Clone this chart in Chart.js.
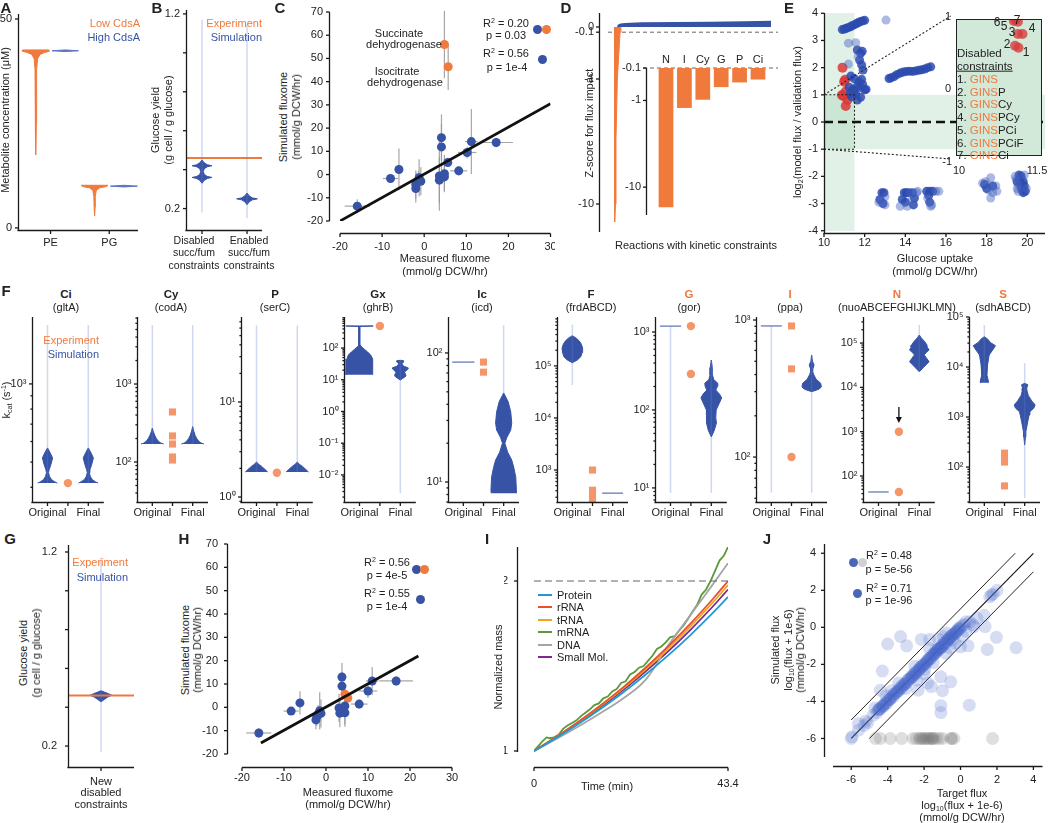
<!DOCTYPE html>
<html>
<head>
<meta charset="utf-8">
<title>Kinetic constraints figure</title>
<script src="https://cdn.jsdelivr.net/npm/chart.js@4.4.1/dist/chart.umd.min.js"></script>
<style>
  body { margin: 0; background: #fff; }
  #fig { position: relative; width: 1050px; height: 823px; overflow: hidden; background: #fff;
         font-family: "Liberation Sans", Arial, Helvetica, sans-serif; font-size: 11px; color: #222; }
  #fig canvas { position: absolute; }
  .t { position: absolute; white-space: nowrap; line-height: 1.1; }
  .t sup { font-size: 7px; vertical-align: 4px; line-height: 0; }
  .t sub { font-size: 7px; vertical-align: -2px; line-height: 0; }
  .dot { position: absolute; border-radius: 50%; }
  .key { position: absolute; height: 2px; width: 14px; }
</style>
</head>
<body>
<div id="fig"></div>
<script>
// ---------------- data ----------------
// A: metabolite concentration violins (value, half width)
const aCats = ['PE', 'PG'];
const aPeLowY = [17.5, 25, 33, 38, 40.5, 41.5, 42.0, 42.3, 42.6];
const aPeLowW = [0, 0.015, 0.02, 0.03, 0.06, 0.14, 0.3, 0.46, 0.44];
const aPeHighY = [42.2, 42.4, 42.6];
const aPeHighW = [0, 0.45, 0];
const aPgLowY = [2.9, 5, 7.5, 9.0, 9.6, 9.9, 10.2];
const aPgLowW = [0, 0.015, 0.025, 0.06, 0.18, 0.4, 0.46];
const aPgHighY = [9.8, 10.0, 10.2];
const aPgHighW = [0, 0.46, 0];

// B: glucose yield
const bCats = [['Disabled', 'succ/fum', 'constraints'], ['Enabled', 'succ/fum', 'constraints']];
const bExp = 0.46;
const bDisY = [0.33, 0.345, 0.355, 0.36, 0.365, 0.375, 0.39, 0.405, 0.415, 0.42, 0.425, 0.435, 0.45];
const bDisW = [0, 0.05, 0.12, 0.22, 0.12, 0.05, 0.03, 0.05, 0.12, 0.22, 0.12, 0.05, 0];
const bDisRange = [0.18, 1.17];
const bEnY = [0.22, 0.235, 0.245, 0.25, 0.255, 0.265, 0.28];
const bEnW = [0, 0.05, 0.12, 0.23, 0.12, 0.05, 0];
const bEnRange = [0.15, 1.15];

// C: measured vs simulated fluxome
const cX = [-15.9, -8.0, -6.0, -2.0, -2.0, -1.75, -1.2, -0.8, -1.35, 3.6, 3.6, 4.1, 4.1, 4.8, 4.8, 5.6, 8.2, 10.2, 11.2, 17.1];
const cY = [-13.6, -1.7, 2.2, -6.0, -4.3, -3.2, -1.4, -2.9, -2.4, -0.6, -2.4, 15.9, 11.9, 0.4, -1.0, 5.2, 1.6, 9.5, 14.2, 13.8];
const cXe = [3, 1.8, 1, 0.5, 0.5, 0.5, 0.5, 0.5, 0.5, 0.8, 0.8, 1.0, 1.0, 1.0, 1.0, 0.8, 2.0, 2.2, 1.5, 4.0];
const cYe = [3, 1.0, 9, 6, 6, 4, 8, 6, 4, 15, 10, 10, 10, 8, 6, 2, 2, 2.5, 14, 2];
const cOX = [4.8, 5.7];
const cOY = [56.0, 46.4];
const cOXe = [1.0, 0.8];
const cOYe = [14.5, 10];
const cFitX = [-20, 30];
const cFitY = [-20, 30.5];

// D: z-score of flux impact (sorted reactions, rank in %)
const dNegRank = [3.8, 3.9, 4.4, 4.7, 5.5, 7.1, 7.6];
const dNegZ = [0, -13.9, -10, -3, -1, -0.1, 0];
const dPosRank = [5.3, 5.6, 6.2, 7.5, 10, 20, 40, 60, 80, 95.9];
const dPosZ = [-0.1, -0.03, 0.03, 0.05, 0.06, 0.07, 0.075, 0.08, 0.09, 0.1];
const dTicks = [0, -0.1, -1, -10];
const dCats = ['N', 'I', 'Cy', 'G', 'P', 'Ci'];
const dInsetZ = [-17, -1.22, -0.98, -0.63, -0.50, -0.42];

// E: model / validation flux vs glucose uptake
const eGoodUptake = [10, 11.5];
const eGoodRatio = [-1, 1];
const eDarkX = [10.9, 11.0, 11.1, 11.2, 11.3, 11.4, 11.5, 11.6, 11.7, 11.8, 11.9, 12.0,
  11.64, 11.8, 11.88, 11.75, 11.85, 11.92, 11.32, 11.48, 11.72, 11.85, 11.24, 11.43, 11.64, 11.8, 12.0, 12.07, 11.56, 11.36, 11.8, 11.64, 11.48, 11.9, 11.3,
  13.2, 13.3, 13.45, 13.6, 13.75, 13.9, 14.05, 14.2, 14.35, 14.5, 14.65, 14.8, 14.95, 15.1, 15.25,
  12.75, 12.85, 12.95, 12.9, 13.85, 13.95, 14.05, 14.15, 14.35, 14.0, 14.4, 14.45, 15.05, 15.2, 15.35, 15.2, 15.15,
  17.9, 18.0, 18.3, 19.5, 19.6, 19.65, 19.7, 19.75, 19.8, 19.85, 19.7, 19.6, 19.9, 19.8, 19.75];
const eDarkY = [3.4, 3.42, 3.45, 3.48, 3.5, 3.55, 3.58, 3.62, 3.66, 3.7, 3.72, 3.74,
  2.65, 2.53, 2.6, 2.28, 2.1, 1.91, 1.69, 1.6, 1.48, 1.57, 1.28, 1.2, 1.33, 1.28, 1.18, 1.2, 1.03, 0.93, 0.91, 0.81, 1.13, 1.38, 1.05,
  1.6, 1.63, 1.67, 1.75, 1.8, 1.84, 1.86, 1.87, 1.86, 1.88, 1.9, 1.92, 1.95, 2.0, 2.03,
  -2.85, -2.6, -2.6, -3.0, -2.85, -2.6, -2.6, -2.6, -2.6, -2.95, -3.05, -2.8, -2.55, -2.55, -2.55, -2.95, -2.7,
  -2.3, -2.45, -2.35, -2.2, -2.1, -2.25, -2.4, -2.5, -2.2, -2.35, -2.0, -1.95, -2.55, -2.6, -2.3];
const eLightX = [13.05, 11.2, 11.56, 11.2, 11.68, 12.8, 13.0, 12.7, 13.0, 13.75, 14.25, 14.55, 14.6, 14.3, 14.1, 15.5, 15.65, 15.1, 15.3, 15.25,
  17.8, 17.95, 18.1, 18.2, 18.3, 18.45, 18.5, 18.2, 19.4, 19.45, 19.55, 19.55, 19.95, 19.5, 19.85];
const eLightY = [3.75, 2.9, 2.92, 2.13, 2.4, -2.9, -2.75, -2.95, -3.05, -3.1, -2.6, -2.6, -2.55, -2.9, -3.1, -2.55, -2.55, -2.8, -3.05, -3.1,
  -2.25, -2.2, -2.5, -2.05, -2.6, -2.35, -2.55, -2.8, -2.0, -2.1, -2.3, -2.55, -2.45, -2.45, -1.95];
const eRedX = [10.91, 10.99, 11.04, 10.88, 11.07, 11.15, 11.07, 10.95];
const eRedY = [2.0, 1.48, 1.55, 0.99, 1.12, 0.81, 0.59, 0.96];
const eInX = [11.01, 11.04, 11.08, 11.08, 11.16, 11.03, 11.09];
const eInY = [0.97, 0.99, 0.96, 0.78, 0.78, 0.61, 0.58];
const eConstraints = ['GINS', 'GINSP', 'GINSCy', 'GINSPCy', 'GINSPCi', 'GINSPCiF', 'GINSCi'];

// F: kcat violins per reaction (value, half width), whiskers, experimental values
const fTitle = ['Ci', 'Cy', 'P', 'Gx', 'Ic', 'F', 'G', 'I', 'N', 'S'];
const fGene = ['gltA', 'codA', 'serC', 'ghrB', 'icd', 'frdABCD', 'gor', 'ppa', 'nuoABCEFGHIJKLMN', 'sdhABCD'];
const fDisabled = [0, 0, 0, 0, 0, 0, 1, 1, 1, 1];
const fYRange = [[351, 1810], [30.7, 7230], [0.886, 78.5], [0.0014, 951], [7.0, 190],
  [243, 8.7e5], [6.6, 1557], [47, 1052], [25.9, 3.87e5], [20, 1e5]];
const fOrig = [
  [[415, 420, 428, 440, 455, 467, 490, 519, 545, 567], [0.48, 0.35, 0.2, 0.1, 0.05, 0.08, 0.17, 0.25, 0.12, 0]],
  [[170, 175, 185, 200, 220, 245, 273], [0.56, 0.42, 0.3, 0.2, 0.12, 0.05, 0]],
  [[1.83, 1.95, 2.1, 2.2, 2.33], [0.55, 0.42, 0.25, 0.12, 0]],
  [[14.4, 20, 30, 45, 60, 75, 90, 110, 124, 300, 480, 495], [0.65, 0.66, 0.66, 0.62, 0.55, 0.4, 0.25, 0.1, 0.04, 0.025, 0.025, 0.67]],
  [[85], [0.55]],
  [[1.15e5, 1.3e5, 1.5e5, 1.8e5, 2.2e5, 2.6e5, 3.0e5, 3.4e5, 3.8e5], [0, 0.25, 0.42, 0.48, 0.51, 0.45, 0.35, 0.2, 0]],
  [[1190], [0.52]],
  [[905], [0.52]],
  [[43.6], [0.5]],
  [[4850, 5200, 6900, 1.1e4, 1.74e4, 2.3e4, 2.67e4, 3.1e4, 3.6e4, 4.04e4], [0.19, 0.2, 0.13, 0.16, 0.24, 0.45, 0.55, 0.3, 0.17, 0]]
];
const fFinal = [
  [[415, 420, 428, 440, 455, 467, 490, 519, 545, 567], [0.48, 0.35, 0.2, 0.1, 0.05, 0.08, 0.17, 0.25, 0.12, 0]],
  [[170, 175, 185, 200, 220, 250, 285], [0.56, 0.42, 0.3, 0.2, 0.12, 0.05, 0]],
  [[1.83, 1.95, 2.1, 2.2, 2.33], [0.55, 0.42, 0.25, 0.12, 0]],
  [[9.8, 11, 13.1, 15.5, 17.5, 20, 23.4, 27, 32, 36, 40, 41], [0, 0.12, 0.28, 0.25, 0.2, 0.32, 0.4, 0.15, 0.08, 0.16, 0.16, 0]],
  [[8.2, 8.7, 10.9, 13, 14.8, 17, 20, 22, 25.3, 28.7, 35, 42, 49], [0.62, 0.63, 0.6, 0.5, 0.4, 0.2, 0.06, 0.15, 0.35, 0.4, 0.35, 0.22, 0]],
  [[360], [0.52]],
  [[45, 55, 68, 80, 100, 120, 143, 160, 180, 200, 220, 245, 280, 350, 437], [0, 0.15, 0.25, 0.22, 0.24, 0.38, 0.51, 0.4, 0.22, 0.3, 0.32, 0.12, 0.06, 0.05, 0]],
  [[300, 312, 324, 345, 370, 400, 420, 440, 470, 500, 556], [0, 0.35, 0.48, 0.45, 0.22, 0.1, 0.05, 0.06, 0.12, 0.04, 0]],
  [[2.25e4, 2.8e4, 3.8e4, 4.6e4, 5.4e4, 6.2e4, 6.95e4, 8e4, 9e4, 1.1e5, 1.3e5, 1.52e5], [0, 0.2, 0.48, 0.35, 0.24, 0.35, 0.48, 0.4, 0.38, 0.25, 0.1, 0]],
  [[275, 400, 510, 800, 1100, 1280, 1500, 1740, 2100, 2700, 3300, 3800, 4400, 4720], [0, 0.04, 0.06, 0.15, 0.22, 0.26, 0.45, 0.52, 0.35, 0.18, 0.12, 0.1, 0.16, 0]]
];
const fOrigRange = [[415, 1686], [170, 5700], [1.83, 64], null, null, [4.3e4, 6.2e5], [8.6, 1190], [55, 905], null, [4850, 6.9e4]];
const fFinalRange = [[415, 1686], [170, 5700], [1.83, 64], [0.0027, 40], [49, 164], null, [8.6, 437], [55, 556], [2.25e4, 2.55e5], [24, 1.2e4]];
const fExp = [[415], [438, 216, 170, 116, 106], [1.8], [495], [85, 71], [1000, 410, 360, 280], [1190, 290], [905, 440, 100], [1000, 43.6], [190, 145, 126, 42]];
const fExpShape = ['circle', 'rect', 'circle', 'circle', 'rect', 'rect', 'circle', ['rect', 'rect', 'circle'], 'circle', 'rect'];
const fArrowN = [3600, 1560];

// G: glucose yield with new disabled constraints
const gCats = [['New', 'disabled', 'constraints']];
const gExp = 0.46;
const gY = [0.428, 0.44, 0.452, 0.462, 0.47, 0.478, 0.485];
const gW = [0, 0.1, 0.2, 0.33, 0.22, 0.1, 0];
const gRange = [0.17, 1.17];

// H: measured vs simulated fluxome after fitting
const hX = [-16, -8.3, -6.2, -2.4, -2.2, -1.9, -1.5, -1.2, 3.1, 3.3, 3.8, 3.8, 4.5, 4.5, 7.9, 10.0, 11.0, 16.7];
const hY = [-11.0, -1.6, 1.9, -5.4, -4.0, -3.0, -1.5, -2.6, -0.3, -2.5, 13.0, 9.1, 0.6, -2.3, 1.4, 7.0, 11.3, 11.3];
const hXe = [3, 1.8, 1, 0.5, 0.5, 0.5, 0.5, 0.5, 0.8, 0.8, 1.0, 1.0, 1.0, 1.0, 2.0, 2.2, 1.5, 4.0];
const hYe = [2, 1.0, 5, 4, 4, 4, 8, 6, 6, 6, 6, 6, 8, 6, 2, 3, 6, 2];
const hOX = [4.5, 5.2];
const hOY = [5.6, 4.0];
const hFitX = [-15.5, 22];
const hFitY = [-15.3, 22];

// I: normalized mass over one cell cycle
const iNames = ['Protein', 'rRNA', 'tRNA', 'mRNA', 'DNA', 'Small Mol.'];
const iColors = ['#1f9ad6', '#e8502f', '#f2a516', '#5a9a3a', '#a5a5a5', '#7b2a8c'];
const iT = [0, 5, 10, 15, 20, 25, 30, 35, 40, 43.4];
const iProtein = [1, 1.077, 1.160, 1.250, 1.346, 1.450, 1.562, 1.682, 1.812, 1.906];
const iRRNA = [1, 1.083, 1.173, 1.271, 1.376, 1.491, 1.615, 1.749, 1.894, 2.0];
const iTRNA = [1, 1.082, 1.170, 1.266, 1.369, 1.481, 1.602, 1.733, 1.874, 1.976];
const iDNA = [1, 1.07, 1.145, 1.225, 1.31, 1.42, 1.62, 1.80, 1.98, 2.105];
const iSmall = [1, 1.080, 1.166, 1.259, 1.360, 1.469, 1.586, 1.713, 1.850, 1.95];
const iMT = [0, 1, 2, 2.8, 3.5, 4.5, 5.5, 6.5, 7.5, 8.5, 9.5, 10.5, 11.5, 12.5, 13.5, 14.5, 15.5, 16.5, 17.5, 18.5, 19.5, 20.5, 21.5,
  22.5, 23.5, 24.5, 25.5, 26.5, 27.5, 28.5, 29.5, 30.5, 31.5, 32.5, 33.5, 34.5, 35.5, 36.5, 37.5, 38.5, 39.5, 40.5, 41.5, 42.5, 43.4];
const iMRNA = [1, 1.03, 1.06, 1.08, 1.075, 1.08, 1.095, 1.13, 1.15, 1.165, 1.18, 1.205, 1.225, 1.245, 1.27, 1.28, 1.31, 1.32, 1.35, 1.365,
  1.40, 1.41, 1.45, 1.465, 1.49, 1.50, 1.53, 1.56, 1.60, 1.615, 1.64, 1.67, 1.675, 1.71, 1.74, 1.78, 1.82, 1.86, 1.92, 1.95, 2.0, 2.06, 2.12, 2.15, 2.2];
const iDouble = 2;

// J: target vs simulated flux (log10)
const jBlueX = [-6.0, -5.95, -5.6, -5.3, -5.1, -4.8, -4.6, -4.5, -4.4, -4.3, -4.2, -4.1, -4.0, -3.9, -3.8, -3.7, -3.6, -3.5, -3.4, -3.3, -3.2, -3.1, -3.0,
  -2.9, -2.8, -2.7, -2.6, -2.5, -2.4, -2.3, -2.2, -2.1, -2.0, -1.9, -1.8, -1.7, -1.6, -1.5, -1.4, -1.3, -1.2, -1.1, -1.0, -0.9, -0.8, -0.7, -0.6,
  -0.5, -0.4, -0.3, -0.2, -0.1, 0.0, 0.1, 0.2, 0.3, 1.6, 1.7, 1.8, 2.0,
  -4.5, -4.3, -4.1, -3.9, -3.7, -3.5, -3.3, -3.1, -2.9, -2.7, -2.5, -2.3, -2.1, -1.9, -1.7, -1.5, -1.3, -1.1, -0.9, -0.7, -0.5, -0.3, -0.1,
  -2.6, -2.2, -1.8, -1.4, -1.0, -0.6, -0.2,
  -4.45, -4.25, -4.05, -3.85, -3.65, -3.45, -3.25, -3.05, -2.85, -2.65, -2.45, -2.25, -2.05, -1.85, -1.65, -1.45, -1.25, -1.05, -0.85, -0.65, -0.45, -0.25, -0.05,
  -5.6, -5.2, -4.7, -4.1, -3.4, -3.0, -2.5, -2.4, -1.7, -1.2, -0.8, -0.3, 0.3, 0.5, 0.7, 0.9, 1.3, -2.0, -1.5, -0.6, 0.1,
  -4.0, -3.29, -2.96, -1.7, -0.95, -1.2, -0.45, 0.0, 0.41, 0.72, 1.35, 1.97, 1.47, 3.05, -4.29, -3.77, -4.4, -2.33, -1.6, -1.08, -0.54,
  -0.99, -1.08, -1.08, 0.48, -1.97, -1.8, -1.35, -0.8, -2.15];
const jBlueY = [-6.0, -5.9, -5.55, -5.3, -5.15, -4.75, -4.6, -4.45, -4.4, -4.25, -4.2, -4.1, -3.95, -3.9, -3.8, -3.65, -3.6, -3.5, -3.4, -3.3, -3.15, -3.1, -3.0,
  -2.85, -2.8, -2.7, -2.55, -2.5, -2.4, -2.3, -2.15, -2.1, -2.0, -1.9, -1.8, -1.65, -1.6, -1.5, -1.4, -1.3, -1.15, -1.1, -0.95, -0.9, -0.8, -0.65, -0.6,
  -0.45, -0.4, -0.3, -0.2, -0.05, 0.0, 0.1, 0.15, 0.3, 1.65, 1.75, 1.8, 2.0,
  -4.45, -4.3, -4.05, -3.9, -3.75, -3.5, -3.25, -3.1, -2.95, -2.7, -2.45, -2.3, -2.1, -1.95, -1.7, -1.45, -1.3, -1.1, -0.85, -0.7, -0.5, -0.35, -0.1,
  -2.65, -2.2, -1.75, -1.4, -1.05, -0.55, -0.2,
  -4.4, -4.25, -4.1, -3.85, -3.6, -3.45, -3.3, -3.05, -2.8, -2.65, -2.5, -2.25, -2.0, -1.85, -1.7, -1.45, -1.2, -1.05, -0.9, -0.65, -0.4, -0.25, -0.1,
  -5.2, -5.05, -4.35, -3.7, -3.0, -3.3, -2.1, -2.85, -1.15, -0.65, -0.3, -0.85, -0.2, 0.3, 0.15, 0.5, 0.65, -2.5, -1.9, -1.1, -0.45,
  -0.9, -0.5, -1.0, -0.65, -0.5, -1.19, -0.68, -1.05, -1.0, 0.04, 0.04, -0.54, -1.19, -1.1, -2.36, -3.42, -3.39, -3.39, -3.2, -2.67, -2.94,
  -3.42, -4.23, -4.6, -4.2, -2.27, -3.0, -1.22, -1.4, -0.65];
const jZeroX = [-4.67, -4.4, -3.86, -3.23, -2.6, -2.42, -2.24, -2.06, -1.89, -1.7, -1.53, -1.35, -1.17, -0.99, -0.5, -0.36, 1.76, -2.0, -1.8, -1.6, -1.5, -0.5, -2.2];
const jZeroY = [-6, -6, -6, -6, -6, -6, -6, -6, -6, -6, -6, -6, -6, -6, -6, -6, -6, -6, -6, -6, -6, -6, -6];
const jDiagX = [-6, 4], jDiagY = [-6, 4];
const jUpX = [-6, 3], jUpY = [-5, 4];
const jLoX = [-5, 4], jLoY = [-6, 3];

// ---------------- helpers ----------------
const FONT = '"Liberation Sans", Arial, Helvetica, sans-serif';
const OR = '#f07a3c', BL = '#3753a6', WHISK = 'rgba(100,125,210,0.3)', EXPC = '#f4956a';
Chart.defaults.font.family = FONT;
Chart.defaults.font.size = 11;
Chart.defaults.color = '#222';

const fig = document.getElementById('fig');
const SUP = {'-': '⁻', '0': '⁰', '1': '¹', '2': '²', '3': '³', '4': '⁴', '5': '⁵', '6': '⁶', '7': '⁷', '8': '⁸', '9': '⁹'};
const pow10 = e => '10' + String(e).split('').map(c => SUP[c]).join('');
const symlog = z => Math.abs(z) <= 1 ? 0.416 * z : Math.sign(z) * (0.416 + Math.log10(Math.abs(z)));
const P = (xs, ys) => xs.map((x, i) => ({x, y: ys[i]}));

function seg(ctx, x1, y1, x2, y2) {
  ctx.beginPath(); ctx.moveTo(x1, y1); ctx.lineTo(x2, y2); ctx.stroke();
}

function txt(html, x, y, o = {}) {
  const d = document.createElement('div');
  d.className = 't';
  d.innerHTML = html;
  d.style.left = x + 'px';
  d.style.top = y + 'px';
  if (o.color) d.style.color = o.color;
  if (o.size) d.style.fontSize = o.size + 'px';
  if (o.bold) d.style.fontWeight = 'bold';
  const tx = o.align === 'left' ? '0' : o.align === 'right' ? '-100%' : '-50%';
  d.style.transform = o.rot ? 'translate(-50%,-50%) rotate(-90deg)' : 'translate(' + tx + ',-50%)';
  fig.appendChild(d);
}
function dot(x, y, color, r) {
  const d = document.createElement('div');
  d.className = 'dot';
  d.style.left = (x - r) + 'px'; d.style.top = (y - r) + 'px';
  d.style.width = d.style.height = (2 * r) + 'px';
  d.style.background = color;
  fig.appendChild(d);
}

// linear axis with fixed ticks
function ax(pos, min, max, ticks, fmt, pad, lh) {
  return {
    type: 'linear', position: pos, min, max, offset: false,
    grid: {display: false, drawTicks: false}, border: {display: false},
    ticks: {padding: pad, autoSkip: false, maxRotation: 0, minRotation: 0, callback: fmt,
            font: {size: 11, family: FONT, lineHeight: lh || 1.2}},
    afterBuildTicks: s => { s.ticks = ticks.map(v => ({value: v})); }
  };
}
function logAx(min, max, pad) {
  return {
    type: 'logarithmic', position: 'left', min, max,
    grid: {display: false, drawTicks: false}, border: {display: false},
    ticks: {padding: pad, autoSkip: false,
            callback: v => {
              const l = Math.log10(v);
              return Math.abs(l - Math.round(l)) < 1e-6 ? pow10(Math.round(l)) : '';
            }},
    afterBuildTicks: s => {
      const t = [];
      for (let e = Math.floor(Math.log10(min)); e <= Math.ceil(Math.log10(max)); e++) {
        for (let m = 1; m <= 9; m++) {
          const v = m * Math.pow(10, e);
          if (v >= min && v <= max) t.push({value: v, minor: m !== 1});
        }
      }
      s.ticks = t;
    }
  };
}
const hidden = (pos, min, max) => ({type: 'linear', position: pos, min, max, display: false});

// spines: axis lines (optionally offset from the data area) with outward tick marks
function spines(o) {
  return {
    id: 'spines',
    afterDraw(chart) {
      const {ctx, chartArea: a, scales} = chart;
      const L = 3.5;
      const touch = o.x !== undefined && o.y !== undefined && o.x <= 3 && o.y <= 3;
      ctx.save();
      ctx.strokeStyle = '#1a1a1a';
      ctx.lineWidth = 1.3;
      if (o.y !== undefined) {
        const s = scales.y, x = Math.round(a.left - o.y) + 0.5;
        seg(ctx, x, a.top, x, touch ? a.bottom + o.x + 0.6 : a.bottom);
        s.ticks.forEach(t => {
          const p = s.getPixelForValue(t.value);
          seg(ctx, x, p, x - (t.minor ? L * 0.6 : L), p);
        });
      }
      if (o.x !== undefined) {
        const s = scales.x, y = Math.round(a.bottom + o.x) + 0.5;
        seg(ctx, touch ? a.left - o.y - 0.6 : a.left, y, a.right, y);
        s.ticks.forEach(t => {
          const p = s.getPixelForValue(t.value);
          seg(ctx, p, y, p, y + L);
        });
      }
      ctx.restore();
    }
  };
}
function errBars(xs, ys, xe, ye) {
  return {
    id: 'err',
    beforeDatasetsDraw(chart) {
      const {ctx, scales: {x, y}} = chart;
      ctx.save();
      ctx.strokeStyle = 'rgba(150,150,150,0.85)';
      ctx.lineWidth = 1.2;
      xs.forEach((v, i) => {
        const px = x.getPixelForValue(v), py = y.getPixelForValue(ys[i]);
        seg(ctx, x.getPixelForValue(v - xe[i]), py, x.getPixelForValue(v + xe[i]), py);
        seg(ctx, px, y.getPixelForValue(ys[i] - ye[i]), px, y.getPixelForValue(ys[i] + ye[i]));
      });
      ctx.restore();
    }
  };
}

function dotsDs(xs, ys, color, r, style) {
  return {type: 'scatter', data: P(xs, ys), pointRadius: r, pointBackgroundColor: color,
          pointBorderWidth: 0, pointStyle: style || 'circle', showLine: false};
}
function lineDs(xs, ys, color, w, extra) {
  return Object.assign({type: 'scatter', data: P(xs, ys), showLine: true, borderColor: color,
                        borderWidth: w, pointRadius: 0, fill: false}, extra || {});
}
function violinDs(c, ys, ws, color) {
  const d = [];
  ys.forEach((y, i) => d.push({x: c + ws[i], y}));
  for (let i = ys.length - 1; i >= 0; i--) d.push({x: c - ws[i], y: ys[i]});
  return {type: 'scatter', data: d, showLine: true, borderColor: color, backgroundColor: color,
          borderWidth: 1, pointRadius: 0, fill: 'shape'};
}
const whisker = (c, r, color) => lineDs([c, c], r, color || WHISK, 1.5);

// make a chart whose plot area is box = [x0, y0, x1, y1] in page pixels
function mk(box, pad, cfg) {
  const [x0, y0, x1, y1] = box, [l, t, r, b] = pad;
  const cv = document.createElement('canvas');
  cv.width = x1 - x0 + l + r;
  cv.height = y1 - y0 + t + b;
  cv.style.left = (x0 - l) + 'px';
  cv.style.top = (y0 - t) + 'px';
  cv.style.width = cv.width + 'px';
  cv.style.height = cv.height + 'px';
  fig.appendChild(cv);
  const sc = cfg.scales;
  Object.values(sc).forEach(s => {
    const pos = s.position;
    const size = s.display === false ? 0 : (pos === 'left' ? l : pos === 'right' ? r : pos === 'top' ? t : b);
    s.afterFit = z => {
      if (pos === 'left' || pos === 'right') z.width = size; else z.height = size;
      z.paddingLeft = z.paddingRight = z.paddingTop = z.paddingBottom = 0;
    };
  });
  const has = p => Object.values(sc).some(s => s.position === p && s.display !== false);
  return new Chart(cv, {
    type: cfg.type || 'scatter',
    data: {datasets: cfg.datasets},
    options: {
      responsive: false, animation: false, devicePixelRatio: 1,
      layout: {padding: {left: has('left') ? 0 : l, top: has('top') ? 0 : t,
                         right: has('right') ? 0 : r, bottom: has('bottom') ? 0 : b}},
      plugins: {legend: {display: false}, tooltip: {enabled: false}},
      scales: sc
    },
    plugins: cfg.plugins || []
  });
}

const yield6 = [0.2, 0.4, 0.6, 0.8, 1.0, 1.2];
const yieldFmt = v => (v === 0.2 || v === 1.2) ? v.toFixed(1) : '';

// ---------------- A ----------------
mk([18, 14, 138, 230], [18, 8, 4, 24], {
  scales: {
    x: ax('bottom', -0.11, 3.98, [1, 3], v => aCats[(v - 1) / 2], 6),
    y: ax('left', -0.5, 51.2, [0, 50], v => v, 6)
  },
  datasets: [
    violinDs(0.5, aPeLowY, aPeLowW, OR), violinDs(1.5, aPeHighY, aPeHighW, '#5b74c2'),
    violinDs(2.5, aPgLowY, aPgLowW, OR), violinDs(3.5, aPgHighY, aPgHighW, '#5b74c2')
  ],
  plugins: [spines({y: 0, x: 0})]
});

// ---------------- B ----------------
mk([186, 10, 262, 230], [24, 6, 4, 44], {
  scales: {
    x: ax('bottom', 0.644, 2.333, [1, 2], () => '', 6),
    y: ax('left', 0.09, 1.22, yield6, yieldFmt, 6)
  },
  datasets: [
    whisker(1, bDisRange), whisker(2, bEnRange),
    violinDs(1, bDisY, bDisW, BL), violinDs(2, bEnY, bEnW, BL),
    lineDs([0.644, 2.333], [bExp, bExp], OR, 2)
  ],
  plugins: [spines({y: 0, x: 0})]
});

// ---------------- C ----------------
mk([340, 12, 551, 221], [44, 8, 4, 36], {
  scales: {
    x: ax('bottom', -20, 30, [-20, -10, 0, 10, 20, 30], v => String(v), 19),
    y: ax('left', -20, 70, [-20, -10, 0, 10, 20, 30, 40, 50, 60, 70], v => String(v), 17)
  },
  datasets: [
    lineDs(cFitX, cFitY, '#111', 2.8),
    dotsDs(cX, cY, BL, 4.5),
    dotsDs(cOX, cOY, OR, 4.5)
  ],
  plugins: [errBars(cX.concat(cOX), cY.concat(cOY), cXe.concat(cOXe), cYe.concat(cOYe)), spines({y: 11, x: 12})]
});

// ---------------- D ----------------
const dFmt = v => { const z = dTicks.find(q => Math.abs(symlog(q) - v) < 1e-9); return z === undefined ? '' : String(z); };
mk([608, 13, 778, 232], [40, 6, 4, 4], {
  scales: {
    x: hidden('bottom', 0, 100),
    y: ax('left', -1.64, 0.112, dTicks.map(symlog), dFmt, 14)
  },
  datasets: [
    lineDs(dNegRank, dNegZ.map(symlog), OR, 1, {backgroundColor: OR, fill: 'origin'}),
    lineDs(dPosRank, dPosZ.map(symlog), BL, 2, {backgroundColor: BL, fill: 'origin'}),
    lineDs([0, 100], [symlog(-0.1), symlog(-0.1)], '#666', 1, {borderDash: [4, 3]})
  ],
  plugins: [spines({y: 9})]
});
mk([646, 68, 778, 215], [30, 16, 4, 8], {
  type: 'bar',
  scales: {
    x: ax('top', -0.087, 7.087, [1, 2, 3, 4, 5, 6], v => dCats[v - 1], 1),
    y: ax('left', -1.737, -0.0416, [-0.1, -1, -10].map(symlog), dFmt, 5)
  },
  datasets: [
    {type: 'bar', data: dInsetZ.map((z, i) => ({x: i + 1, y: [symlog(-0.1), symlog(z)]})),
     backgroundColor: OR, barPercentage: 0.8, categoryPercentage: 1.0},
    lineDs([-0.25, 7.087], [symlog(-0.1), symlog(-0.1)], '#666', 1, {borderDash: [4, 3], clip: false})
  ],
  plugins: [spines({y: 0})]
});

// ---------------- E ----------------
const eShade = {
  id: 'shade',
  beforeDatasetsDraw(chart) {
    const {ctx, chartArea: a, scales: {x, y}} = chart;
    ctx.save();
    ctx.fillStyle = 'rgba(140,200,160,0.25)';
    const x0 = x.getPixelForValue(eGoodUptake[0]), x1 = x.getPixelForValue(eGoodUptake[1]);
    ctx.fillRect(x0, a.top, x1 - x0, a.bottom - a.top);
    const y0 = y.getPixelForValue(eGoodRatio[1]), y1 = y.getPixelForValue(eGoodRatio[0]);
    ctx.fillRect(a.left, y0, a.right - a.left, y1 - y0);
    ctx.restore();
  }
};
const dotted = {borderDash: [2, 2]};
mk([824, 13, 1049, 231], [26, 8, 1, 22], {
  scales: {
    x: ax('bottom', 10, 20.87, [10, 12, 14, 16, 18, 20], v => v, 5),
    y: ax('left', -4.01, 4.01, [-4, -3, -2, -1, 0, 1, 2, 3, 4], v => v, 6)
  },
  datasets: [
    lineDs([10, 11.5, 11.5, 10, 10], [-1, -1, 1, 1, -1], '#222', 1.1, dotted),
    lineDs([10, 16.23], [1, 3.9], '#222', 1.1, dotted),
    lineDs([10, 16.23], [-1, -1.36], '#222', 1.1, dotted),
    dotsDs(eLightX, eLightY, 'rgba(70,100,190,0.45)', 4.5),
    dotsDs(eDarkX, eDarkY, 'rgba(45,75,175,0.85)', 4.5),
    dotsDs(eRedX, eRedY, 'rgba(220,55,55,0.85)', 5),
    lineDs([10, 20.87], [0, 0], '#111', 2.6, {borderDash: [9, 5]})
  ],
  plugins: [eShade, spines({y: 0, x: 2})]
});
mk([953, 16, 1045, 159], [2, 2, 2, 2], {
  scales: {x: hidden('bottom', 10, 11.5), y: hidden('left', -1, 1)},
  datasets: [dotsDs(eInX, eInY, 'rgba(215,60,60,0.8)', 5)],
  plugins: [{
    id: 'insetbg',
    beforeDraw(chart) {
      const {ctx, chartArea: a} = chart;
      ctx.save(); ctx.fillStyle = '#d2e8d9'; ctx.fillRect(a.left, a.top, a.width, a.height); ctx.restore();
    },
    afterDraw(chart) {
      const {ctx, chartArea: a} = chart;
      ctx.save(); ctx.strokeStyle = '#222'; ctx.lineWidth = 1;
      ctx.strokeRect(a.left + 0.5, a.top + 0.5, a.width - 1, a.height - 1); ctx.restore();
    }
  }]
});

// ---------------- F ----------------
const fAxisX = [32, 137, 241, 344, 448, 557, 655, 756, 863, 969];
const arrowN = {
  id: 'arrow',
  afterDatasetsDraw(chart) {
    const {ctx, scales: {x, y}} = chart;
    const px = x.getPixelForValue(1), y0 = y.getPixelForValue(fArrowN[0]), y1 = y.getPixelForValue(fArrowN[1]);
    ctx.save(); ctx.strokeStyle = '#111'; ctx.fillStyle = '#111'; ctx.lineWidth = 1.3;
    seg(ctx, px, y0, px, y1 - 4);
    ctx.beginPath(); ctx.moveTo(px - 3, y1 - 6); ctx.lineTo(px + 3, y1 - 6); ctx.lineTo(px, y1); ctx.closePath(); ctx.fill();
    ctx.restore();
  }
};
fTitle.forEach((name, k) => {
  const a0 = fAxisX[k];
  const ds = [];
  if (fOrigRange[k]) ds.push(whisker(0, fOrigRange[k]));
  if (fFinalRange[k]) ds.push(whisker(2, fFinalRange[k]));
  ds.push(violinDs(0, fOrig[k][0], fOrig[k][1], BL));
  ds.push(violinDs(2, fFinal[k][0], fFinal[k][1], BL));
  const shp = fExpShape[k];
  ds.push({type: 'scatter', data: fExp[k].map(y => ({x: 1, y})), pointBackgroundColor: EXPC, pointBorderWidth: 0,
           pointStyle: shp, pointRadius: Array.isArray(shp) ? shp.map(s => s === 'rect' ? 5 : 4.2) : (shp === 'rect' ? 5 : 4.2)});
  mk([a0, 317, a0 + 74, 502], [34, 8, 2, 22], {
    scales: {
      x: ax('bottom', -0.76, 2.76, [0, 1, 2], v => v === 0 ? 'Original' : v === 2 ? 'Final' : '', 4.5),
      y: logAx(fYRange[k][0], fYRange[k][1], 5.5)
    },
    datasets: ds,
    plugins: k === 8 ? [spines({y: 0, x: 0}), arrowN] : [spines({y: 0, x: 0})]
  });
  txt(name, a0 + 34, 294, {bold: true, color: fDisabled[k] ? OR : '#222', size: 11.5});
  txt('(' + fGene[k] + ')', a0 + 34, 307);
});

// ---------------- G ----------------
mk([68, 545, 134, 767], [36, 6, 4, 50], {
  scales: {
    x: ax('bottom', 0, 2, [1], v => gCats[v - 1], 9, 1.05),
    y: ax('left', 0.092, 1.236, yield6, yieldFmt, 11)
  },
  datasets: [
    whisker(1, gRange),
    lineDs([0, 2], [gExp, gExp], OR, 2),
    violinDs(1, gY, gW, BL)
  ],
  plugins: [spines({y: 0, x: 0})]
});

// ---------------- H ----------------
mk([242, 544, 452, 754], [46, 8, 6, 36], {
  scales: {
    x: ax('bottom', -20, 30, [-20, -10, 0, 10, 20, 30], v => String(v), 17),
    y: ax('left', -20, 70, [-20, -10, 0, 10, 20, 30, 40, 50, 60, 70], v => String(v), 24)
  },
  datasets: [
    lineDs(hFitX, hFitY, '#111', 2.8),
    dotsDs(hX, hY, BL, 4.5),
    dotsDs(hOX, hOY, OR, 4.5)
  ],
  plugins: [errBars(hX, hY, hXe, hYe), spines({y: 15, x: 13})]
});

// ---------------- I ----------------
mk([534, 547, 728, 752], [30, 8, 16, 44], {
  scales: {
    x: ax('bottom', 0, 43.4, [0, 43.4], v => v, 25),
    y: ax('left', 0.994, 2.2, [1, 2], v => v, 26)
  },
  datasets: [
    lineDs([0, 43.4], [iDouble, iDouble], '#666', 1.2, {borderDash: [7, 4]}),
    lineDs(iT, iProtein, iColors[0], 1.8, {tension: 0.4}),
    lineDs(iT, iRRNA, iColors[1], 1.8, {tension: 0.4}),
    lineDs(iT, iTRNA, iColors[2], 1.8, {tension: 0.4}),
    lineDs(iT, iDNA, iColors[4], 1.8, {tension: 0.4}),
    lineDs(iT, iSmall, iColors[5], 1.8, {tension: 0.4}),
    lineDs(iMT, iMRNA, iColors[3], 1.8)
  ],
  plugins: [spines({y: 17, x: 15})]
});

// ---------------- J ----------------
mk([833, 544, 1046, 757], [36, 8, 3, 32], {
  scales: {
    x: ax('bottom', -7, 4.5, [-6, -4, -2, 0, 2, 4], v => String(v), 16),
    y: ax('left', -7, 4.5, [-6, -4, -2, 0, 2, 4], v => String(v), 17)
  },
  datasets: [
    dotsDs(jZeroX, jZeroY, 'rgba(110,110,110,0.22)', 6.5),
    dotsDs(jBlueX, jBlueY, 'rgba(70,100,200,0.22)', 6.5),
    lineDs(jUpX, jUpY, '#222', 1),
    lineDs(jLoX, jLoY, '#222', 1),
    lineDs(jDiagX, jDiagY, '#111', 1.1)
  ],
  plugins: [spines({y: 9, x: 9})]
});

// ---------------- text ----------------
[['A', 6, 8], ['B', 157, 8], ['C', 280, 8], ['D', 566, 8], ['E', 789, 8], ['F', 6, 291],
 ['G', 10, 539], ['H', 184, 539], ['I', 487, 539], ['J', 767, 539]].forEach(([s, x, y]) => txt(s, x, y, {bold: true, size: 15}));

// A
txt('Low CdsA', 140, 23, {align: 'right', color: OR});
txt('High CdsA', 140, 37, {align: 'right', color: BL});
txt('Metabolite concentration (μM)', 5, 120, {rot: true});
// B
txt('Experiment', 262, 23, {align: 'right', color: OR});
txt('Simulation', 262, 37, {align: 'right', color: BL});
txt('Glucose yield', 155, 120, {rot: true});
txt('(g cell / g glucose)', 168, 120, {rot: true});
bCats.forEach((lines, i) => lines.forEach((s, j) => txt(s, [194, 249][i], 241 + j * 12.3, {size: 10.5})));
// C
txt('Simulated fluxome', 283, 117, {rot: true});
txt('(mmol/g DCW/hr)', 296, 117, {rot: true});
txt('Measured fluxome', 445, 258);
txt('(mmol/g DCW/hr)', 445, 271);
txt('Succinate', 399, 33);
txt('dehydrogenase', 404, 44);
txt('Isocitrate', 397, 71);
txt('dehydrogenase', 405, 82);
txt('R<sup>2</sup> = 0.20', 506, 23);
txt('p = 0.03', 506, 35);
txt('R<sup>2</sup> = 0.56', 506, 53);
txt('p = 1e-4', 507, 67);
dot(537, 29, BL, 4.5); dot(546, 29, OR, 4.5); dot(542, 59, BL, 4.5);
// D
txt('Z-score for flux impact', 589, 123, {rot: true});
txt('Reactions with kinetic constraints', 696, 245);
// E
txt('log<sub>2</sub>(model flux / validation flux)', 797, 122, {rot: true});
txt('Glucose uptake', 935, 258);
txt('(mmol/g DCW/hr)', 935, 271);
txt('1', 951, 16, {align: 'right'});
txt('0', 951, 88, {align: 'right'});
txt('-1', 952, 161, {align: 'right'});
txt('10', 959, 170);
txt('11.5', 1037, 170);
[['6', 997, 23], ['5', 1004, 27], ['7', 1017, 21], ['3', 1012, 33], ['4', 1032, 29], ['2', 1007, 45], ['1', 1026, 53]]
  .forEach(([s, x, y]) => txt(s, x, y, {size: 12}));
txt('Disabled', 957, 53, {align: 'left', size: 11.5});
txt('<u>constraints</u>', 957, 66, {align: 'left', size: 11.5});
eConstraints.forEach((c, i) => {
  txt((i + 1) + '. <span style="color:' + OR + '">GINS</span>' + c.slice(4), 957, 79 + i * 12.7, {align: 'left', size: 11.5});
});
// F
txt('k<sub>cat</sub> (s<sup>-1</sup>)', 6, 400, {rot: true});
txt('Experiment', 99, 340, {align: 'right', color: OR});
txt('Simulation', 99, 354, {align: 'right', color: BL});
// G
txt('Glucose yield', 23, 653, {rot: true});
txt('(g cell / g glucose)', 36, 653, {rot: true});
txt('Experiment', 128, 562, {align: 'right', color: OR});
txt('Simulation', 128, 577, {align: 'right', color: BL});
// H
txt('Simulated fluxome', 185, 650, {rot: true});
txt('(mmol/g DCW/hr)', 197, 650, {rot: true});
txt('Measured fluxome', 348, 792);
txt('(mmol/g DCW/hr)', 348, 804);
txt('R<sup>2</sup> = 0.56', 387, 562);
txt('p = 4e-5', 387, 575);
txt('R<sup>2</sup> = 0.55', 387, 593);
txt('p = 1e-4', 387, 606);
dot(416, 569, BL, 4.5); dot(424, 569, OR, 4.5); dot(420, 599, BL, 4.5);
// I
txt('Normalized mass', 498, 667, {rot: true});
txt('Time (min)', 607, 786);
iNames.forEach((name, k) => {
  const y = 595 + k * 12.4;
  const d = document.createElement('div');
  d.className = 'key';
  d.style.left = '538px'; d.style.top = (y - 1) + 'px'; d.style.background = iColors[k];
  fig.appendChild(d);
  txt(name, 557, y, {align: 'left'});
});
// J
txt('Simulated flux', 775, 650, {rot: true});
txt('log<sub>10</sub>(flux + 1e-6)', 788, 650, {rot: true});
txt('(mmol/g DCW/hr)', 800, 650, {rot: true});
txt('Target flux', 962, 793);
txt('log<sub>10</sub>(flux + 1e-6)', 962, 805);
txt('(mmol/g DCW/hr)', 962, 817);
txt('R<sup>2</sup> = 0.48', 889, 555);
txt('p = 5e-56', 889, 569);
txt('R<sup>2</sup> = 0.71', 889, 588);
txt('p = 1e-96', 889, 600);
dot(853, 562, 'rgba(55,85,175,0.9)', 4.5); dot(862, 562, 'rgba(150,150,150,0.45)', 4.5); dot(857, 593, 'rgba(55,85,175,0.9)', 4.5);
</script>
</body>
</html>
